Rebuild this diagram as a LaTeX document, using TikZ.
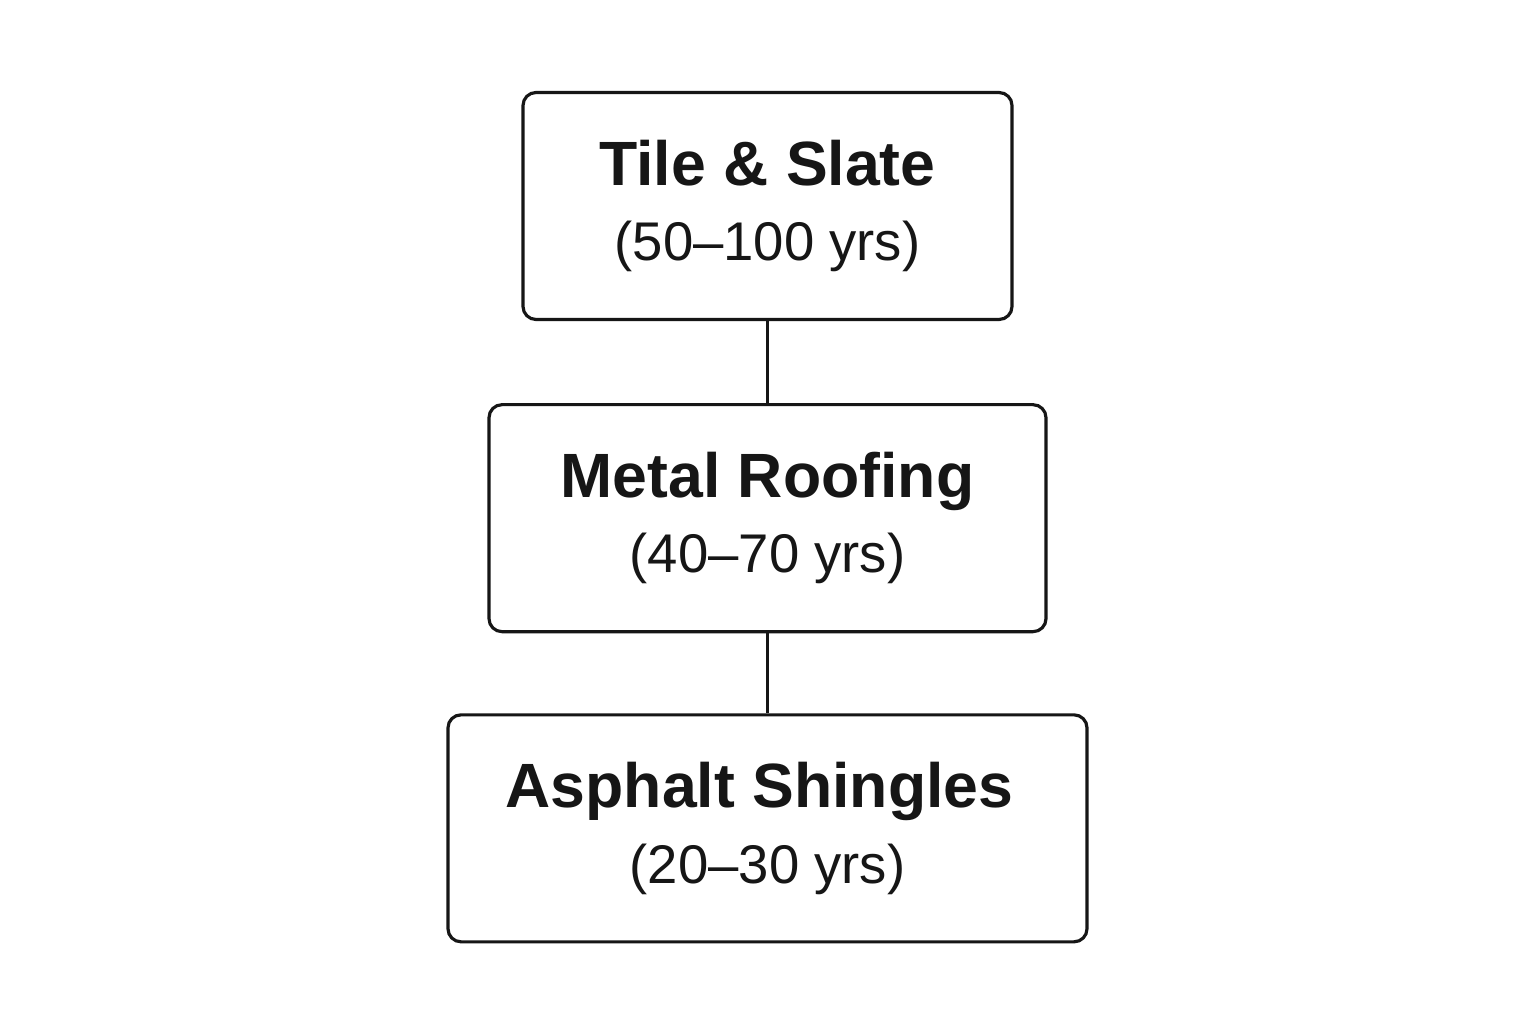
\documentclass[tikz,border=0pt]{standalone}
\usepackage{fontspec}
\setmainfont{Liberation Sans}
\usetikzlibrary{positioning}
\definecolor{ink}{HTML}{161616}

\begin{document}
\begin{tikzpicture}[
        every node/.style={font=\fontsize{15.5}{21.5}\selectfont, text=ink},
        box/.style={rectangle, rounded corners=0.13cm, draw=ink, line width=0.9pt,
          minimum height=2.27cm, align=center, fill=white},
        link/.style={draw=ink, line width=0.9pt}]
      \fill[white] (0,0) rectangle (15.36,10.24);
      \useasboundingbox (0,0) rectangle (15.36,10.24);
      \node[box, minimum width=4.89cm] (tile) at (7.675,8.18)
        {{\fontsize{17.8}{21.5}\selectfont\bfseries Tile \& Slate}\\(50–100 yrs)};
      \node[box, minimum width=5.57cm, below=0.82cm of tile] (metal)
        {{\fontsize{17.8}{21.5}\selectfont\bfseries Metal Roofing}\\(40–70 yrs)};
      \node[box, minimum width=6.39cm, below=0.80cm of metal] (asphalt)
        {{\fontsize{17.8}{21.5}\selectfont\bfseries Asphalt Shingles}\hspace*{0.16cm}\\(20–30 yrs)};
      \draw[link] (tile.south) -- (metal.north);
      \draw[link] (metal.south) -- (asphalt.north);
    \end{tikzpicture}
\end{document}
